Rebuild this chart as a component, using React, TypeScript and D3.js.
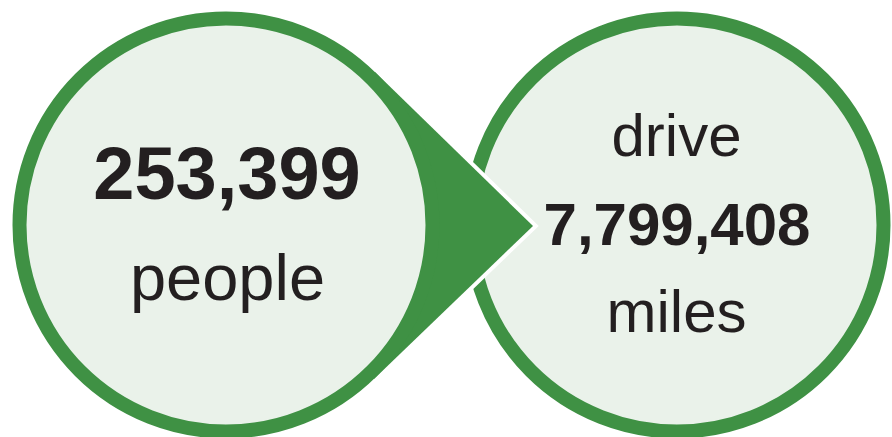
import React from "react";
import * as d3 from "d3";

const W = 892;
const H = 437;

// data
const counts = [253399, 7799408];
const topLabels = ["", "drive"];
const bottomLabels = ["people", "miles"];

const GREEN = "#3F9144";
const FILL = "#EAF2EA";
const TEXT = "#231F20";
const FONT = "'Liberation Sans', Arial, Helvetica, sans-serif";

export default function App() {
  const fmt = d3.format(",");
  const x = d3.scalePoint<number>().domain([0, 1]).range([226, 677]);
  const cy = 225;
  const rOuter = 213.5;
  const sw = 14;
  const r = rOuter - sw / 2;

  // arrow: tangent lines from the left circle to the tip
  const cx0 = x(0)!;
  const tip: [number, number] = [533, 226];
  const dx = tip[0] - cx0;
  const dy = tip[1] - cy;
  const d = Math.hypot(dx, dy);
  const base = Math.atan2(dy, dx);
  const a = Math.acos(rOuter / d);
  const t1: [number, number] = [cx0 + rOuter * Math.cos(base - a), cy + rOuter * Math.sin(base - a)];
  const t2: [number, number] = [cx0 + rOuter * Math.cos(base + a), cy + rOuter * Math.sin(base + a)];
  const arrowPath = d3.line()([t1, tip, t2, [cx0, cy]]) + "Z";

  return (
    <svg
      width={W}
      height={H}
      style={{ position: "absolute", left: 0, top: 0, display: "block", background: "#fff" }}
    >
      {/* right circle */}
      <circle cx={x(1)} cy={cy} r={r} fill={FILL} stroke={GREEN} strokeWidth={sw} />
      {/* arrow with white outline */}
      <path d={arrowPath} fill="#fff" stroke="#fff" strokeWidth={8} strokeLinejoin="miter" />
      <path d={arrowPath} fill={GREEN} />
      {/* left circle */}
      <circle cx={x(0)} cy={cy} r={r} fill={FILL} stroke={GREEN} strokeWidth={sw} />

      {/* left texts */}
      <text x={227} y={199} textAnchor="middle" fontFamily={FONT} fontWeight="bold" fontSize={74} fill={TEXT}>
        {fmt(counts[0])}
      </text>
      <text x={227.5} y={300} textAnchor="middle" fontFamily={FONT} fontSize={65} fill={TEXT}>
        {bottomLabels[0]}
      </text>

      {/* right texts */}
      <text x={676.5} y={156} textAnchor="middle" fontFamily={FONT} fontSize={60} fill={TEXT}>
        {topLabels[1]}
      </text>
      <text x={677} y={245} textAnchor="middle" fontFamily={FONT} fontWeight="bold" fontSize={60} fill={TEXT}>
        {fmt(counts[1])}
      </text>
      <text x={676.5} y={332} textAnchor="middle" fontFamily={FONT} fontSize={60} fill={TEXT}>
        {bottomLabels[1]}
      </text>
    </svg>
  );
}
